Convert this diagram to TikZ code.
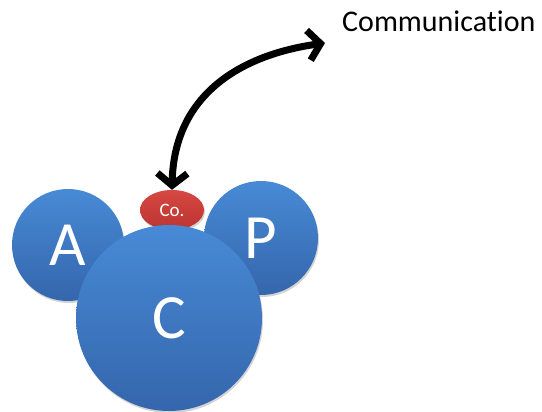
\documentclass[tikz,border=0pt]{standalone}
\usepackage{fontspec}
\setmainfont[Ligatures=NoCommon]{Carlito}
\usetikzlibrary{shapes.geometric,arrows.meta,shadows}

\definecolor{balltop}{RGB}{72,138,214}
\definecolor{ballbot}{RGB}{52,102,172}
\definecolor{redtop}{RGB}{214,72,66}
\definecolor{redbot}{RGB}{188,52,48}

\begin{document}
\begin{tikzpicture}[x=1pt,y=-1pt,
    ball/.style={circle,top color=balltop,bottom color=ballbot,
        drop shadow={opacity=0.35,shadow xshift=1pt,shadow yshift=-2pt},
        text=white,inner sep=0pt,font=\fontsize{63}{63}\selectfont},
    link/.style={line width=7pt,{Straight Barb[length=12pt,width=30pt]}-{Straight Barb[length=12pt,width=30pt]}}]
    \useasboundingbox (0,0) rectangle (542,412);
    \node[ball,minimum size=112pt] (a) at (68,245) {A};
    \node[ball,minimum size=114pt] (p) at (261,238) {P};
    \node[ellipse,top color=redtop,bottom color=redbot,
        drop shadow={opacity=0.35,shadow xshift=1pt,shadow yshift=-2pt},
        minimum width=64pt,minimum height=40pt,inner sep=0pt,text=white,
        font=\fontsize{19}{19}\selectfont] (co) at (172,210) {Co.};
    \node[ball,minimum size=186pt] (c) at (169,318) {C};

    \node[anchor=base west,inner sep=0pt,font=\fontsize{30}{30}\selectfont] (comm) at (342,32) {Communication};
    \coordinate (tip) at (325,43);
    \draw[link] (co.north) .. controls (174,95) and (240,55) .. (tip);
\end{tikzpicture}
\end{document}
